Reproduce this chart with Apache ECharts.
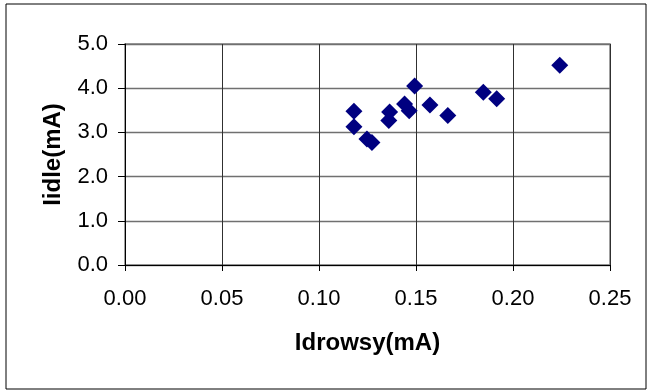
<!DOCTYPE html>
<html>
<head>
<meta charset="utf-8">
<script src="https://cdn.jsdelivr.net/npm/echarts@6/dist/echarts.min.js"></script>
<style>
  html, body { margin: 0; padding: 0; background: #fff; }
  #chart { width: 650px; height: 392px; }
</style>
</head>
<body>
<div id="chart"></div>
<script>
// Drowsy vs idle current, one reading per sample
const idrowsy = [0.118, 0.118, 0.1247, 0.1273, 0.1364, 0.1360, 0.1441, 0.1465, 0.1493, 0.1572, 0.1664, 0.1847, 0.1916, 0.2241];
const iidle   = [3.48,  3.13,  2.85,   2.77,   3.46,   3.27,   3.64,   3.49,   4.05,   3.62,   3.38,   3.91,   3.76,   4.52];
const xTicks = [0.00, 0.05, 0.10, 0.15, 0.20, 0.25];
const yTicks = [0.0, 1.0, 2.0, 3.0, 4.0, 5.0];

const points = idrowsy.map((x, i) => [x, iidle[i]]);
const font = 'Liberation Sans, Arial, sans-serif';

const chart = echarts.init(document.getElementById('chart'), null, { renderer: 'canvas' });
chart.setOption({
  animation: false,
  backgroundColor: '#fff',
  grid: { left: 125, right: 40, top: 44, bottom: 127, show: true, borderColor: '#808080', borderWidth: 1.5 },
  xAxis: {
    type: 'value',
    min: xTicks[0], max: xTicks[xTicks.length - 1], interval: 0.05,
    name: 'Idrowsy(mA)', nameLocation: 'middle', nameGap: 66,
    nameTextStyle: { fontFamily: font, fontWeight: 'bold', fontSize: 24, color: '#000' },
    axisLine: { show: true, onZero: false, lineStyle: { color: '#000', width: 1 } },
    axisTick: { show: true, length: 6, lineStyle: { color: '#000' } },
    axisLabel: { margin: 23, fontFamily: font, fontSize: 22, color: '#000',
                 formatter: v => v.toFixed(2) },
    splitLine: { show: true, lineStyle: { color: '#303030', width: 1 } }
  },
  yAxis: {
    type: 'value',
    min: yTicks[0], max: yTicks[yTicks.length - 1], interval: 1,
    name: 'Iidle(mA)', nameLocation: 'middle', nameGap: 60, nameRotate: 90,
    nameTextStyle: { fontFamily: font, fontWeight: 'bold', fontSize: 24, color: '#000' },
    axisLine: { show: true, onZero: false, lineStyle: { color: '#000', width: 1 } },
    axisTick: { show: true, length: 7, lineStyle: { color: '#000' } },
    axisLabel: { margin: 17, fontFamily: font, fontSize: 22, color: '#000',
                 formatter: v => v.toFixed(1) },
    splitLine: { show: true, lineStyle: { color: '#707070', width: 1.3 } }
  },
  series: [{
    type: 'scatter',
    data: points,
    symbol: 'diamond',
    symbolSize: 17,
    itemStyle: { color: '#000080', opacity: 1 }
  }],
  graphic: [{
    type: 'rect',
    shape: { x: 6, y: 4, width: 640, height: 385 },
    style: { fill: null, stroke: '#000', lineWidth: 1 },
    silent: true
  }]
});
</script>
</body>
</html>
